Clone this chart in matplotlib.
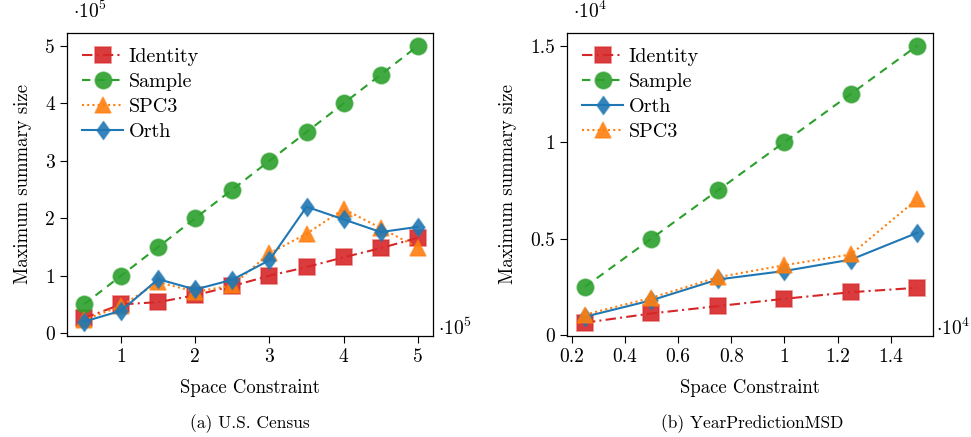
import numpy as np
import matplotlib
matplotlib.use("Agg")
import matplotlib.pyplot as plt
from matplotlib.path import Path

plt.rcParams['font.family'] = 'cmr10'
plt.rcParams['mathtext.fontset'] = 'cm'
plt.rcParams['axes.unicode_minus'] = False
plt.rcParams['font.size'] = 12

# (a) U.S. Census, values in units of 1e5
census_x = [0.5, 1, 1.5, 2, 2.5, 3, 3.5, 4, 4.5, 5]
census_identity = [0.26, 0.50, 0.54, 0.66, 0.82, 1.00, 1.15, 1.32, 1.48, 1.66]
census_sample = [0.5, 1.0, 1.5, 2.0, 2.5, 3.0, 3.5, 4.0, 4.5, 5.0]
census_spc3 = [0.23, 0.47, 0.89, 0.72, 0.83, 1.39, 1.73, 2.16, 1.83, 1.49]
census_orth = [0.20, 0.39, 0.94, 0.76, 0.93, 1.27, 2.20, 1.98, 1.76, 1.85]

# (b) YearPredictionMSD, values in units of 1e4
year_x = [0.25, 0.5, 0.75, 1.0, 1.25, 1.5]
year_identity = [0.064, 0.112, 0.150, 0.188, 0.222, 0.245]
year_sample = [0.25, 0.5, 0.75, 1.0, 1.25, 1.5]
year_orth = [0.095, 0.180, 0.288, 0.332, 0.391, 0.530]
year_spc3 = [0.106, 0.193, 0.300, 0.362, 0.418, 0.705]

red = '#d62728'
green = '#2ca02c'
orange = '#ff7f0e'
blue = '#1f77b4'

diamond = Path([(0, 1), (0.72, 0), (0, -1), (-0.72, 0), (0, 1)],
               [Path.MOVETO, Path.LINETO, Path.LINETO, Path.LINETO, Path.CLOSEPOLY])

styles = {
    'Identity': dict(color=red, ls=(0, (5, 2, 1, 2)), marker='s', ms=11),
    'Sample': dict(color=green, ls=(0, (4, 3)), marker='o', ms=12),
    'SPC3': dict(color=orange, ls=(0, (1, 1.5)), marker='^', ms=12),
    'Orth': dict(color=blue, ls='-', marker=diamond, ms=13),
}


def draw(ax, x, series, order):
    for name in order:
        st = styles[name]
        c = matplotlib.colors.to_rgba(st['color'])
        ax.plot(x, series[name], color=st['color'], ls=st['ls'], lw=1.5,
                marker=st['marker'], ms=st['ms'],
                mfc=c[:3] + (0.9,), mec=c[:3] + (0.55,), mew=1.2, label=name)
    ax.legend(loc='upper left', frameon=False, handlelength=2.0,
              handletextpad=0.3, labelspacing=0.35, borderaxespad=0.35,
              fontsize=14.5)
    ax.tick_params(direction='out', length=5, width=0.8, labelsize=14, pad=4)
    for s in ax.spines.values():
        s.set_linewidth(0.9)
    ax.set_xlabel('Space Constraint', fontsize=13.5, labelpad=9)
    ax.set_ylabel('Maximum summary size', fontsize=13.5, labelpad=9)


fig = plt.figure(figsize=(9.71, 4.37), dpi=100)
ax1 = fig.add_axes([0.0693, 0.2311, 0.3763, 0.694])
ax2 = fig.add_axes([0.5842, 0.2311, 0.3763, 0.694])

draw(ax1, census_x,
     {'Identity': census_identity, 'Sample': census_sample,
      'SPC3': census_spc3, 'Orth': census_orth},
     ['Identity', 'Sample', 'SPC3', 'Orth'])
ax1.set_xlim(0.275, 5.2)
ax1.set_ylim(-0.05, 5.23)
ax1.set_xticks([1, 2, 3, 4, 5])
ax1.set_yticks([0, 1, 2, 3, 4, 5])
ax1.text(0.015, 1.035, r'$\cdot 10^{5}$', transform=ax1.transAxes, fontsize=14, va='bottom')
ax1.text(1.015, 0.025, r'$\cdot 10^{5}$', transform=ax1.transAxes, fontsize=14, va='center')

draw(ax2, year_x,
     {'Identity': year_identity, 'Sample': year_sample,
      'Orth': year_orth, 'SPC3': year_spc3},
     ['Identity', 'Sample', 'Orth', 'SPC3'])
ax2.set_xlim(0.1835, 1.5576)
ax2.set_ylim(-0.005, 1.567)
ax2.set_xticks([0.2, 0.4, 0.6, 0.8, 1.0, 1.2, 1.4])
ax2.set_xticklabels(['0.2', '0.4', '0.6', '0.8', '1', '1.2', '1.4'])
ax2.set_yticks([0, 0.5, 1, 1.5])
ax2.set_yticklabels(['0', '0.5', '1', '1.5'])
ax2.text(0.015, 1.035, r'$\cdot 10^{4}$', transform=ax2.transAxes, fontsize=14, va='bottom')
ax2.text(1.008, 0.025, r'$\cdot 10^{4}$', transform=ax2.transAxes, fontsize=14, va='center')

fig.text(0.2575, 0.02, '(a) U.S. Census', ha='center', fontsize=12.5)
fig.text(0.7745, 0.02, '(b) YearPredictionMSD', ha='center', fontsize=12.5)

fig.savefig('out.png', dpi=100)
